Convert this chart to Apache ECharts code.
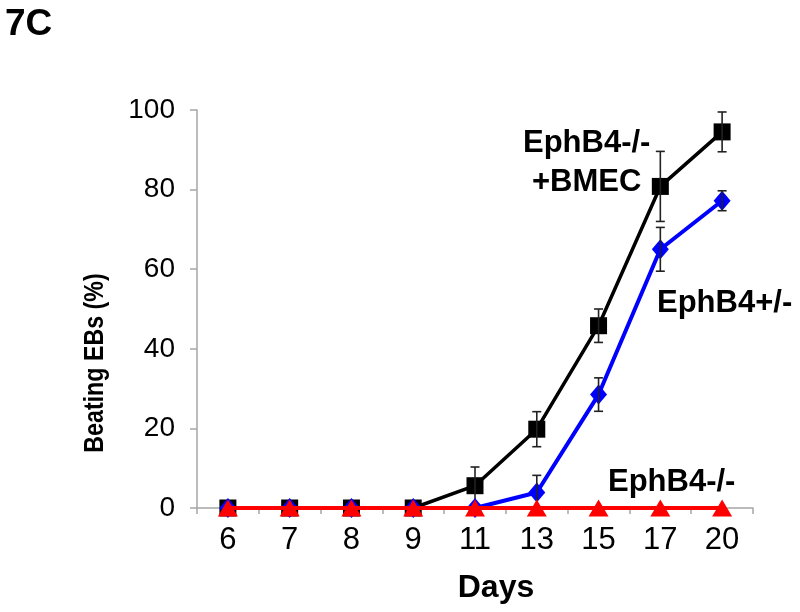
<!DOCTYPE html>
<html>
<head>
<meta charset="utf-8">
<script src="https://cdn.jsdelivr.net/npm/echarts@6/dist/echarts.min.js"></script>
<style>html,body{margin:0;padding:0;background:#fff}#c{width:800px;height:612px}</style>
</head>
<body>
<div id="c"></div>
<script>
var days = ['6','7','8','9','11','13','15','17','20'];
var yTicks = [0,20,40,60,80,100];
var bmec = [0,0,0,0,5.6,19.8,45.8,80.8,94.5];
var bmecErr = [0,0,0,0,4.7,4.4,4.2,8.8,5.0];
var het = [0,0,0,0,0,3.9,28.5,65.0,77.2];
var hetErr = [0,0,0,0,0,4.3,4.2,5.5,2.5];
var ko = [0,0,0,0,0,0,0,0,0];

var FONT = '"Liberation Sans", Arial, sans-serif';

function errData(vals, errs) {
  var out = [];
  for (var i = 0; i < vals.length; i++) {
    if (errs[i] > 0) out.push([i, vals[i], errs[i]]);
  }
  return out;
}
function errRender(params, api) {
  var i = api.value(0), v = api.value(1), e = api.value(2);
  var top = api.coord([i, v + e]);
  var bot = api.coord([i, v - e]);
  var hw = 4.5;
  var st = { stroke: '#222', lineWidth: 1.6 };
  return { type: 'group', children: [
    { type: 'line', shape: { x1: top[0], y1: top[1], x2: bot[0], y2: bot[1] }, style: st },
    { type: 'line', shape: { x1: top[0]-hw, y1: top[1], x2: top[0]+hw, y2: top[1] }, style: st },
    { type: 'line', shape: { x1: bot[0]-hw, y1: bot[1], x2: bot[0]+hw, y2: bot[1] }, style: st }
  ]};
}

var chart = echarts.init(document.getElementById('c'), null, { renderer: 'canvas' });
chart.setOption({
  animation: false,
  backgroundColor: '#fff',
  grid: { left: 197, right: 47, top: 110, bottom: 104 },
  xAxis: {
    type: 'category', data: days, boundaryGap: true,
    axisLine: { lineStyle: { color: '#a6a6a6', width: 1.5 } },
    axisTick: { show: true, length: 6, lineStyle: { color: '#a6a6a6', width: 1.5 } },
    axisLabel: { color: '#000', fontFamily: FONT, fontSize: 31, margin: 17 },
    splitLine: { show: false }
  },
  yAxis: {
    type: 'value', min: 0, max: 100, interval: 20,
    axisLine: { show: true, lineStyle: { color: '#a6a6a6', width: 1.5 } },
    axisTick: { show: true, length: 7, lineStyle: { color: '#a6a6a6', width: 1.5 } },
    axisLabel: { color: '#000', fontFamily: FONT, fontSize: 28, margin: 22,
      formatter: function (v) { return yTicks.indexOf(v) >= 0 ? String(v) : ''; } },
    splitLine: { show: false }
  },
  series: [
    { name: 'EphB4-/- +BMEC', type: 'line', data: bmec, z: 2,
      symbol: 'rect', symbolSize: 17, showAllSymbol: true,
      lineStyle: { color: '#000', width: 3.5 }, itemStyle: { color: '#000' } },
    { type: 'custom', renderItem: errRender, data: errData(bmec, bmecErr), z: 3, silent: true,
      encode: { x: 0, y: 1 } },
    { name: 'EphB4+/-', type: 'line', data: het, z: 4,
      symbol: 'diamond', symbolSize: [17, 20], showAllSymbol: true,
      lineStyle: { color: '#0000ff', width: 4 }, itemStyle: { color: '#0000ff' } },
    { type: 'custom', renderItem: errRender, data: errData(het, hetErr), z: 5, silent: true,
      encode: { x: 0, y: 1 } },
    { name: 'EphB4-/-', type: 'line', data: ko, z: 6,
      symbol: 'triangle', symbolSize: [20, 17], showAllSymbol: true,
      lineStyle: { color: '#ff0000', width: 4 }, itemStyle: { color: '#ff0000' } }
  ],
  graphic: [
    { type: 'text', left: 5, top: 6, style: { text: '7C', fontFamily: FONT, fontWeight: 'bold', fontSize: 37, fill: '#000' } },
    { type: 'text', x: 95, y: 363, rotation: Math.PI / 2, scaleX: 0.83,
      style: { text: 'Beating EBs (%)', fontFamily: FONT, fontWeight: 'bold', fontSize: 28, fill: '#000', align: 'center', verticalAlign: 'middle' } },
    { type: 'text', x: 496, y: 588,
      style: { text: 'Days', fontFamily: FONT, fontWeight: 'bold', fontSize: 32, fill: '#000', align: 'center', verticalAlign: 'middle' } },
    { type: 'text', x: 523, y: 143,
      style: { text: 'EphB4-/-', fontFamily: FONT, fontWeight: 'bold', fontSize: 31, fill: '#000', align: 'left', verticalAlign: 'middle' } },
    { type: 'text', x: 532, y: 182,
      style: { text: '+BMEC', fontFamily: FONT, fontWeight: 'bold', fontSize: 31, fill: '#000', align: 'left', verticalAlign: 'middle' } },
    { type: 'text', x: 657, y: 303,
      style: { text: 'EphB4+/-', fontFamily: FONT, fontWeight: 'bold', fontSize: 31, fill: '#000', align: 'left', verticalAlign: 'middle' } },
    { type: 'text', x: 608, y: 482,
      style: { text: 'EphB4-/-', fontFamily: FONT, fontWeight: 'bold', fontSize: 31, fill: '#000', align: 'left', verticalAlign: 'middle' } }
  ]
});
</script>
</body>
</html>
